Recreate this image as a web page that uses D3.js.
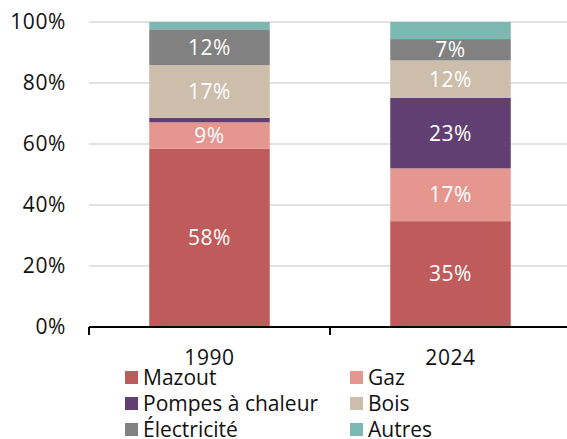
<!DOCTYPE html>
<html>
<head>
<meta charset="utf-8">
<script src="https://cdn.jsdelivr.net/npm/d3@7"></script>
<style>
  html, body { margin: 0; padding: 0; background: #fff; }
  svg { display: block; font-family: "Open Sans", "Noto Sans", sans-serif; }
</style>
</head>
<body>
<div id="chart"></div>
<script>
// data (shares in %)
const years = ['1990', '2024'];
const seriesNames = ['Mazout', 'Gaz', 'Pompes à chaleur', 'Bois', 'Électricité', 'Autres'];
const mazout = [58.4, 34.7];
const gaz = [8.7, 17.3];
const pompes = [1.5, 23.1];
const bois = [17.3, 12.3];
const electricite = [11.7, 7.0];
const autres = [2.4, 5.6];
const yTicks = [0, 20, 40, 60, 80, 100];

const colors = ['#c05b5b', '#e5968f', '#613f72', '#cdbdab', '#818181', '#7bb8b2'];

const width = 567, height = 439;
const margin = { top: 22, right: -4, bottom: 112, left: 89 };
const innerW = width - margin.left - margin.right;
const innerH = height - margin.top - margin.bottom;

const values = [mazout, gaz, pompes, bois, electricite, autres];
const rows = years.map((y, i) => {
  const r = { year: y };
  seriesNames.forEach((s, k) => { r[s] = values[k][i]; });
  return r;
});
const stacked = d3.stack().keys(seriesNames)(rows);

const svg = d3.select('#chart').append('svg')
  .attr('width', width)
  .attr('height', height);

const g = svg.append('g')
  .attr('transform', `translate(${margin.left},${margin.top})`);

const x = d3.scaleBand()
  .domain(years)
  .range([0, innerW])
  .paddingInner(0.5)
  .paddingOuter(0.25);

const y = d3.scaleLinear()
  .domain([0, 100])
  .range([innerH, 0]);

// gridlines
g.selectAll('.grid')
  .data(yTicks.filter(t => t > 0))
  .enter()
  .append('line')
  .attr('class', 'grid')
  .attr('x1', 0)
  .attr('x2', width - margin.left)
  .attr('y1', d => y(d))
  .attr('y2', d => y(d))
  .attr('stroke', '#d9d9d9')
  .attr('stroke-width', 1.5);

// y tick labels
g.selectAll('.ylab')
  .data(yTicks)
  .enter()
  .append('text')
  .attr('class', 'ylab')
  .attr('x', -23)
  .attr('y', d => y(d))
  .attr('dy', '0.35em')
  .attr('text-anchor', 'end')
  .attr('font-size', '21px')
  .attr('letter-spacing', '0.6px')
  .attr('fill', '#111')
  .text(d => d + '%');

// bars
const layer = g.selectAll('.layer')
  .data(stacked)
  .enter()
  .append('g')
  .attr('class', 'layer')
  .attr('fill', (d, i) => colors[i]);

layer.selectAll('rect')
  .data(d => d)
  .enter()
  .append('rect')
  .attr('x', d => x(d.data.year))
  .attr('y', d => y(d[1]))
  .attr('width', x.bandwidth())
  .attr('height', d => y(d[0]) - y(d[1]));

// value labels
layer.selectAll('text')
  .data(d => d.filter(p => p[1] - p[0] >= 6))
  .enter()
  .append('text')
  .attr('x', d => x(d.data.year) + x.bandwidth() / 2)
  .attr('y', d => y((d[0] + d[1]) / 2))
  .attr('dy', '0.35em')
  .attr('text-anchor', 'middle')
  .attr('font-size', '21px')
  .attr('letter-spacing', '0.6px')
  .attr('fill', '#fff')
  .text(d => Math.round(d[1] - d[0]) + '%');

// x axis
const step = x.step();
g.append('line')
  .attr('x1', 0)
  .attr('x2', width - margin.left)
  .attr('y1', innerH)
  .attr('y2', innerH)
  .attr('stroke', '#000')
  .attr('stroke-width', 2);

g.selectAll('.xtick')
  .data([0, 1])
  .enter()
  .append('line')
  .attr('x1', d => x(years[0]) - x.paddingOuter() * step + d * step)
  .attr('x2', d => x(years[0]) - x.paddingOuter() * step + d * step)
  .attr('y1', innerH)
  .attr('y2', innerH + 8)
  .attr('stroke', '#000')
  .attr('stroke-width', 2);

g.selectAll('.xlab')
  .data(years)
  .enter()
  .append('text')
  .attr('x', d => x(d) + x.bandwidth() / 2)
  .attr('y', innerH + 38)
  .attr('text-anchor', 'middle')
  .attr('font-size', '21px')
  .attr('letter-spacing', '0.6px')
  .attr('fill', '#111')
  .text(d => d);

// legend
const legend = svg.append('g')
  .attr('transform', 'translate(125, 371)');

const items = legend.selectAll('.legend-item')
  .data(seriesNames)
  .enter()
  .append('g')
  .attr('class', 'legend-item')
  .attr('transform', (d, i) => `translate(${(i % 2) * 225}, ${Math.floor(i / 2) * 26})`);

items.append('rect')
  .attr('width', 13)
  .attr('height', 13)
  .attr('fill', (d, i) => colors[i]);

items.append('text')
  .attr('x', 18)
  .attr('y', 6.5)
  .attr('dy', '0.35em')
  .attr('font-size', '21px')
  .attr('fill', '#111')
  .text(d => d);
</script>
</body>
</html>
